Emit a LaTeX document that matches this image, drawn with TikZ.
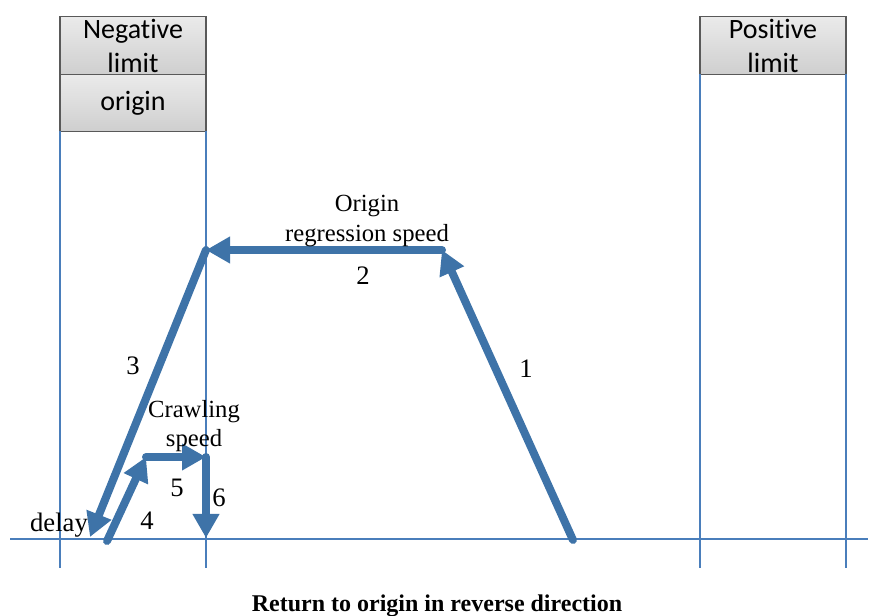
\documentclass[tikz,border=0pt]{standalone}
\usepackage{fontspec}
\setmainfont{Liberation Serif}
\newfontfamily\boxfont[Ligatures=NoCommon]{Carlito}
\usepackage{xcolor}
\definecolor{axisBlue}{HTML}{4A7EBB}
\definecolor{pathBlue}{HTML}{3E73A8}
\definecolor{boxGray}{HTML}{595959}
\usetikzlibrary{arrows.meta}

\begin{document}
\begin{tikzpicture}[
    x=0.75pt, y=-0.75pt,
    limitbox/.style={rectangle, draw=boxGray, line width=1.1pt, top color=black!8, bottom color=black!19, minimum width=109.5pt, minimum height=43.5pt, inner sep=0pt, outer sep=0pt, align=center, font=\boxfont\fontsize{21}{25.5}\selectfont},
    guide/.style={axisBlue, line width=1.1pt},
    move/.style={-{Triangle[length=18pt, width=19pt]}, pathBlue, line width=6pt, line cap=round},
    speedtext/.style={align=center, inner sep=0pt, font=\fontsize{18.5}{22}\selectfont},
    stepnum/.style={inner sep=0pt, font=\fontsize{20}{24}\selectfont}
]
    \useasboundingbox (0,0) rectangle (872,616);

    % Nodes
    \node[limitbox] (neglimit) at (133,45.5) {Negative\\limit};
    \node[limitbox, minimum height=42.75pt, anchor=north] (origin) at (neglimit.south) {origin};
    \node[limitbox] (poslimit) at (773,45.5) {Positive\\limit};

    \coordinate (axisleft) at (10,539);
    \coordinate (axisright) at (868,539);
    \coordinate (floor) at (0,568);

    \coordinate (launch) at (573,540);
    \coordinate (peak) at (442,250);
    \coordinate (corner) at (206,250);
    \coordinate (delaypt) at (90,537);
    \coordinate (crawlstart) at (107,541);
    \coordinate (crawltop) at (146,457);
    \coordinate (crawlend) at (206,457);
    \coordinate (homept) at (206,538);

    % Guide lines
    \draw[guide] (origin.south west) -- (origin.south west |- floor);
    \draw[guide] (origin.south east) -- (origin.south east |- floor);
    \draw[guide] (poslimit.south west) -- (poslimit.south west |- floor);
    \draw[guide] (poslimit.south east) -- (poslimit.south east |- floor);
    \draw[guide] (axisleft) -- (axisright);

    % Connections
    \draw[move] (launch) -- (peak);
    \draw[move] (peak) -- (corner);
    \draw[move] (corner) -- (delaypt);
    \draw[move] (crawlstart) -- (crawltop);
    \draw[move] (crawltop) -- (crawlend);
    \draw[move] (crawlend) -- (homept);

    % Labels
    \node[speedtext] (regtext) at (367,221) {Origin\\regression speed};
    \node[speedtext] (crawltext) at (194,426) {Crawling\\speed};
    \node[stepnum] (step1) at (526,369) {1};
    \node[stepnum] (step2) at (363,276) {2};
    \node[stepnum] (step3) at (133,366) {3};
    \node[stepnum] (step4) at (147,521) {4};
    \node[stepnum] (step5) at (177,488) {5};
    \node[stepnum] (step6) at (219,498) {6};
    \node[stepnum] (delaytext) at (59,525) {delay};
    \node[font=\bfseries\fontsize{18}{21}\selectfont, inner sep=0pt] (caption) at (437,606) {Return to origin in reverse direction};

\end{tikzpicture}
\end{document}
